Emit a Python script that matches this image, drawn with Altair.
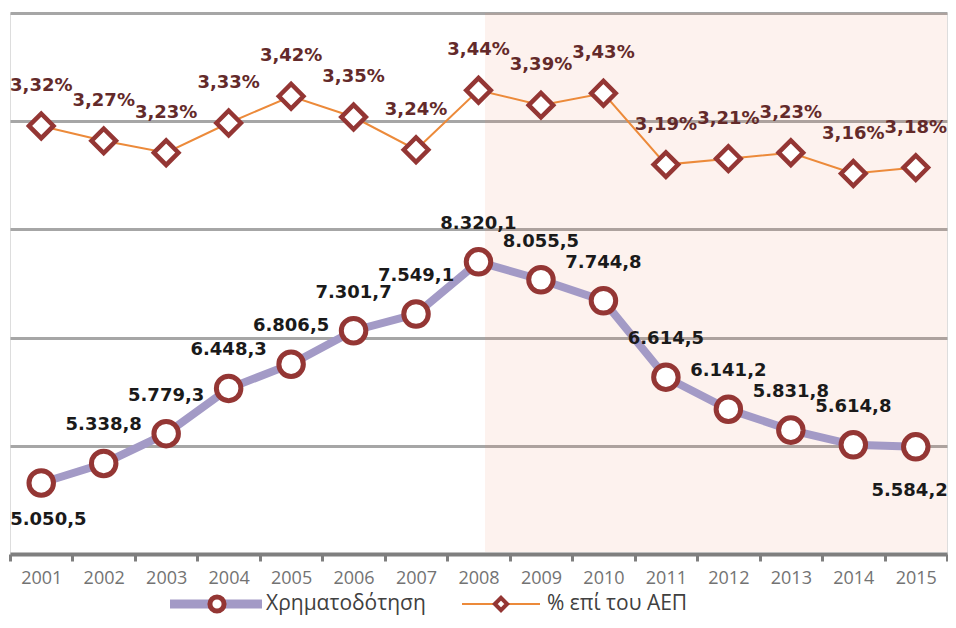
import altair as alt
import pandas as pd

# ---- data ----
years = ["2001", "2002", "2003", "2004", "2005", "2006", "2007", "2008",
         "2009", "2010", "2011", "2012", "2013", "2014", "2015"]
funding = [5050.5, 5338.8, 5779.3, 6448.3, 6806.5, 7301.7, 7549.1, 8320.1,
           8055.5, 7744.8, 6614.5, 6141.2, 5831.8, 5614.8, 5584.2]
pct_gdp = [3.32, 3.27, 3.23, 3.33, 3.42, 3.35, 3.24, 3.44,
           3.39, 3.43, 3.19, 3.21, 3.23, 3.16, 3.18]
series_names = ["Χρηματοδότηση", "% επί του ΑΕΠ"]
grid_values = [5600, 7200, 8800, 10400, 12000]
funding_domain = [4000, 12000]
pct_domain = [1.88, 3.70]
label_first, label_last = "2001", "2015"

df = pd.DataFrame({"year": years, "funding": funding, "pct": pct_gdp})
df["pct_frac"] = df["pct"] / 100.0
one = pd.DataFrame({"k": [0]})

W, H = 937, 541
MAROON = "#943634"
LAVENDER = "#a39ac6"
ORANGE = "#ec8a3a"
LBL_FONT = "DejaVu Sans"
LBL_SIZE = 18

x_enc = alt.X(
    "year:N",
    scale=alt.Scale(type="band", paddingInner=0, paddingOuter=0),
    axis=alt.Axis(title=None, labelAngle=0, tickBand="extent", grid=False,
                  domainColor="#7f7f7f", domainWidth=4, tickColor="#7f7f7f",
                  tickWidth=3, tickSize=7, labelColor="#737373",
                  labelFont="Open Sans", labelFontSize=18, labelPadding=8),
)
fund_scale = alt.Scale(domain=funding_domain, nice=False, zero=False)
pct_scale = alt.Scale(domain=pct_domain, nice=False, zero=False)

y_fund_axis = alt.Y("funding:Q", scale=fund_scale,
                    axis=alt.Axis(title=None, values=grid_values, labels=False,
                                  ticks=False, domain=False, grid=True,
                                  gridColor="#a6a6a6", gridWidth=3))
y_fund = alt.Y("funding:Q", scale=fund_scale, axis=None)
y_pct = alt.Y("pct:Q", scale=pct_scale, axis=None)

base = alt.Chart(df)

shade = alt.Chart(one).mark_rect(color="#e8845c", opacity=0.1).encode(
    x=alt.value(475), x2=alt.value(W), y=alt.value(0), y2=alt.value(H - 2)
)

f_line = base.mark_line(color=LAVENDER, strokeWidth=8).encode(x=x_enc, y=y_fund_axis)
f_pts = base.mark_point(shape="circle", size=600, fill="white", fillOpacity=1,
                        stroke=MAROON, strokeWidth=5, opacity=1).encode(x="year:N", y=y_fund)
f_text = alt.Text("funding:Q", format=",.1f")
f_txt_up = base.transform_filter(
    f"datum.year != '{label_first}' && datum.year != '{label_last}'"
).mark_text(font=LBL_FONT, fontWeight="bold", fontSize=LBL_SIZE, color="#1a1a1a",
            dy=-38, baseline="middle").encode(x="year:N", y=y_fund, text=f_text)
f_txt_first = base.transform_filter(f"datum.year == '{label_first}'").mark_text(
    font=LBL_FONT, fontWeight="bold", fontSize=LBL_SIZE, color="#1a1a1a",
    dy=37, dx=-31, align="left", baseline="middle").encode(x="year:N", y=y_fund, text=f_text)
f_txt_last = base.transform_filter(f"datum.year == '{label_last}'").mark_text(
    font=LBL_FONT, fontWeight="bold", fontSize=LBL_SIZE, color="#1a1a1a",
    dy=44, dx=32, align="right", baseline="middle").encode(x="year:N", y=y_fund, text=f_text)

p_line = base.mark_line(color=ORANGE, strokeWidth=2).encode(x="year:N", y=y_pct)
p_pts = base.mark_point(shape="diamond", size=600, fill="white", fillOpacity=1,
                        stroke=MAROON, strokeWidth=4.5, opacity=1).encode(x="year:N", y=y_pct)
p_txt = base.mark_text(font=LBL_FONT, fontWeight="bold", fontSize=LBL_SIZE,
                       color="#632a2a", dy=-40, baseline="middle").encode(
    x="year:N", y=y_pct, text=alt.Text("pct_frac:Q", format=".2%"))

# ---- legend ----
LY = 591
leg1_line = alt.Chart(one).mark_rule(color=LAVENDER, strokeWidth=9).encode(
    x=alt.value(160), x2=alt.value(252), y=alt.value(LY))
leg1_pt = alt.Chart(one).mark_point(shape="circle", size=200, fill="white", fillOpacity=1,
                                    stroke=MAROON, strokeWidth=5, opacity=1).encode(
    x=alt.value(207), y=alt.value(LY))
leg1_txt = alt.Chart(one).mark_text(align="left", baseline="middle", font="Open Sans",
                                    fontSize=21, color="#404040", text=series_names[0]).encode(
    x=alt.value(256), y=alt.value(LY))
leg2_line = alt.Chart(one).mark_rule(color=ORANGE, strokeWidth=2).encode(
    x=alt.value(452), x2=alt.value(530), y=alt.value(LY))
leg2_pt = alt.Chart(one).mark_point(shape="diamond", size=150, fill="white", fillOpacity=1,
                                    stroke=MAROON, strokeWidth=4, opacity=1).encode(
    x=alt.value(491), y=alt.value(LY))
leg2_txt = alt.Chart(one).mark_text(align="left", baseline="middle", font="Open Sans",
                                    fontSize=21, color="#404040", text=series_names[1]).encode(
    x=alt.value(537), y=alt.value(LY))

chart = alt.layer(
    shade, f_line, f_pts, f_txt_up, f_txt_first, f_txt_last, p_line, p_pts, p_txt,
    leg1_line, leg1_pt, leg1_txt, leg2_line, leg2_pt, leg2_txt
).resolve_scale(y="independent").properties(
    width=W, height=H,
    padding={"left": 2, "top": 5, "right": 1, "bottom": 62},
    autosize=alt.AutoSizeParams(type="none"),
).configure_view(stroke=None).configure(
    locale={"number": {"decimal": ",", "thousands": ".", "grouping": [3],
                       "currency": ["", "\u00a0€"]}}
)

chart.save("out.html", embed_options={"renderer": "svg", "actions": False})
